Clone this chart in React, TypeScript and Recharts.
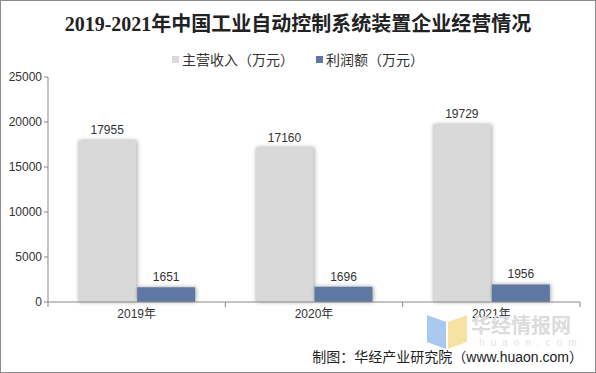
import React from 'react';
import { BarChart, Bar, XAxis, YAxis, LabelList } from 'recharts';

const years = ['2019年', '2020年', '2021年'];
const revenue = [17955, 17160, 19729];
const profit = [1651, 1696, 1956];
const yTicks = [0, 5000, 10000, 15000, 20000, 25000];
const seriesNames = ['主营收入（万元）', '利润额（万元）'];
const seriesColors = ['#d9d9d9', '#5f78a3'];

const data = years.map((year, i) => ({ year, revenue: revenue[i], profit: profit[i] }));

const W = 596;
const H = 373;
const X_H = 30;
const M = { top: 77, right: 16, bottom: 71 - X_H, left: 0 };
const Y_W = 48;
const BAND = (W - M.left - M.right - Y_W) / years.length;

const FONT = '"Liberation Sans", Arial, "Noto Sans CJK SC", sans-serif';
const CJK = '"Noto Sans CJK SC", sans-serif';

function XTick(props: any) {
  const { x, y, payload, index } = props;
  const left = x - BAND / 2;
  return (
    <g>
      <line x1={left} y1={y - 8} x2={left} y2={y - 3} stroke="#888" />
      {index === years.length - 1 && (
        <line x1={x + BAND / 2} y1={y - 8} x2={x + BAND / 2} y2={y - 3} stroke="#888" />
      )}
      <text x={x} y={y + 8} textAnchor="middle" fill="#333" fontSize={12} fontFamily={FONT}>
        {payload.value}
      </text>
    </g>
  );
}

export default function App() {
  return (
    <div
      style={{
        position: 'absolute',
        left: 0,
        top: 0,
        width: W,
        height: H,
        boxSizing: 'border-box',
        border: '1px solid #8c8c8c',
        background: '#fff',
        fontFamily: FONT,
      }}
    >
      <div
        style={{
          position: 'absolute',
          top: 7,
          width: '100%',
          textAlign: 'center',
          fontSize: 20,
          fontWeight: 'bold',
          color: '#222',
          fontFamily: '"Liberation Serif", "Noto Sans CJK SC", serif',
        }}
      >
        2019-2021年中国工业自动控制系统装置企业经营情况
      </div>
      <div
        style={{
          position: 'absolute',
          top: 48,
          width: '100%',
          display: 'flex',
          justifyContent: 'center',
          gap: 22,
          fontSize: 14,
          color: '#333',
          fontFamily: CJK,
          lineHeight: '20px',
        }}
      >
        {seriesNames.map((n, i) => (
          <span key={n} style={{ display: 'flex', alignItems: 'center' }}>
            <span style={{ width: 7, height: 7, background: seriesColors[i], marginRight: 3 }} />
            {n}
          </span>
        ))}
      </div>
      <div style={{ position: 'absolute', left: -1, top: -1 }}>
        <BarChart width={W} height={H} data={data} margin={M} barGap={1} barCategoryGap="17%">
          <XAxis
            dataKey="year"
            height={X_H}
            tickLine={false}
            axisLine={{ stroke: '#888' }}
            tick={<XTick />}
            interval={0}
          />
          <YAxis
            width={Y_W}
            domain={[0, 25000]}
            ticks={yTicks}
            interval={0}
            tickSize={4}
            axisLine={{ stroke: '#888' }}
            tickLine={{ stroke: '#888' }}
            tick={{ fill: '#333', fontSize: 12, fontFamily: FONT }}
          />
          <Bar
            dataKey="revenue"
            name={seriesNames[0]}
            fill={seriesColors[0]}
            isAnimationActive={false}
            style={{ filter: 'drop-shadow(1px 0px 2px rgba(0,0,0,0.35))' }}
          >
            <LabelList dataKey="revenue" position="top" offset={6} fill="#333" fontSize={12} fontFamily={FONT} />
          </Bar>
          <Bar
            dataKey="profit"
            name={seriesNames[1]}
            fill={seriesColors[1]}
            isAnimationActive={false}
            style={{ filter: 'drop-shadow(1px 0px 2px rgba(0,0,0,0.35))' }}
          >
            <LabelList dataKey="profit" position="top" offset={6} fill="#333" fontSize={12} fontFamily={FONT} />
          </Bar>
        </BarChart>
      </div>
      <svg style={{ position: 'absolute', left: 424, top: 310 }} width={46} height={40}>
        <polygon points="2,4 21,11 21,38 2,31" fill="#a9c8ef" />
        <polygon points="23,11 42,4 42,31 23,38" fill="#f6e3a3" />
      </svg>
      <div
        style={{
          position: 'absolute',
          left: 470,
          top: 312,
          fontSize: 20,
          fontWeight: 'bold',
          color: '#dcdcdc',
          fontFamily: CJK,
          whiteSpace: 'nowrap',
          lineHeight: '24px',
        }}
      >
        华经情报网
      </div>
      <div
        style={{
          position: 'absolute',
          left: 478,
          top: 336,
          fontSize: 10,
          color: '#e4e4e4',
          letterSpacing: 6,
          whiteSpace: 'nowrap',
          lineHeight: '12px',
          fontFamily: FONT,
        }}
      >
        huaon.com
      </div>
      <div
        style={{
          position: 'absolute',
          right: 12,
          top: 345,
          fontSize: 14,
          color: '#222',
          whiteSpace: 'nowrap',
          fontFamily: CJK,
        }}
      >
        制图：华经产业研究院（<span style={{ fontFamily: FONT }}>www.huaon.com</span>）
      </div>
    </div>
  );
}
